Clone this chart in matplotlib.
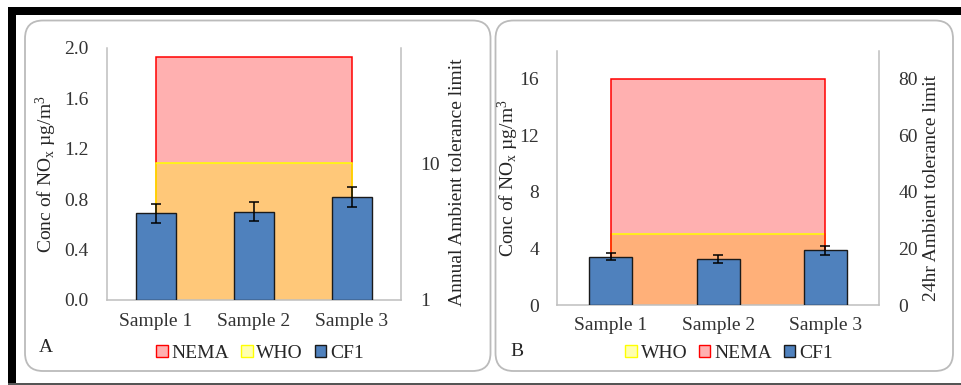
import matplotlib
matplotlib.use("Agg")
import matplotlib.pyplot as plt
from matplotlib.patches import FancyBboxPatch, Rectangle, Patch
from matplotlib.ticker import FixedLocator, FixedFormatter, NullLocator

plt.rcParams["font.family"] = ["Liberation Serif", "DejaVu Serif"]
plt.rcParams["mathtext.fontset"] = "custom"
plt.rcParams["mathtext.rm"] = "Liberation Serif"
plt.rcParams["mathtext.it"] = "Liberation Serif:italic"

# ---- data ----
samples = ["Sample 1", "Sample 2", "Sample 3"]

# Panel A: annual
cf1_annual = [0.69, 0.70, 0.82]
cf1_annual_err = [0.075, 0.074, 0.079]
nema_annual = [60, 60, 60]
who_annual = [10, 10, 10]

# Panel B: 24 hr
cf1_24hr = [3.42, 3.26, 3.89]
cf1_24hr_err = [0.27, 0.27, 0.32]
nema_24hr = [80, 80, 80]
who_24hr = [25, 25, 25]

BLUE = "#4F81BD"
NEMA_FILL = (1.0, 0.0, 0.0, 0.31)
WHO_FILL = (1.0, 1.0, 0.0, 0.31)
SPINE = "#BFBFBF"
TXT = "#262626"
FS = 14

W, H = 961, 385
fig = plt.figure(figsize=(W / 100, H / 100), dpi=100)

# pixel-space background layer for frames and panel boxes
bg = fig.add_axes([0, 0, 1, 1], zorder=-10)
bg.set_xlim(0, W)
bg.set_ylim(H, 0)
bg.axis("off")
bg.add_patch(Rectangle((8, 7), W - 8, 7.5, color="black", lw=0))
bg.add_patch(Rectangle((8, 7), 7.5, 377, color="black", lw=0))
bg.add_patch(Rectangle((8, 382.5), W - 8, 2.5, color="#555555", lw=0))
for x0, x1 in [(25, 490.5), (495.5, 953)]:
    bg.add_patch(FancyBboxPatch((x0, 20.5), x1 - x0, 350.5,
                                boxstyle="round,pad=0,rounding_size=18",
                                fc="white", ec="#BBBBBB", lw=1.3))


def px_axes(left, right, top, bottom):
    return fig.add_axes([left / W, (H - bottom) / H, (right - left) / W, (bottom - top) / H])


def draw_limit(tw, values, bottom, fill, edge):
    x = list(range(len(values)))
    tw.fill_between(x, bottom, values, facecolor=fill, edgecolor="none", lw=0)
    tw.plot([x[0]] + x + [x[-1]], [bottom] + list(values) + [bottom],
            color=edge, lw=1.1, solid_joinstyle="miter")


def style_axes(ax, tw):
    ax.set_zorder(tw.get_zorder() + 1)
    ax.patch.set_visible(False)
    for s in ["top", "right"]:
        ax.spines[s].set_visible(False)
    for s in ["top", "left", "bottom"]:
        tw.spines[s].set_visible(False)
    for sp in [ax.spines["left"], ax.spines["bottom"], tw.spines["right"]]:
        sp.set_color(SPINE)
        sp.set_linewidth(1.1)
    ax.tick_params(axis="both", length=0, labelsize=FS, colors="#333333")
    ax.tick_params(axis="y", pad=13)
    ax.tick_params(axis="x", pad=9)
    tw.tick_params(axis="y", length=0, labelsize=FS, colors="#333333", pad=14)
    tw.tick_params(axis="y", which="minor", length=0)
    ax.set_xlim(-0.5, len(samples) - 0.5)
    ax.set_xticks(range(len(samples)))
    ax.set_xticklabels(samples)


def draw_bars(ax, vals, errs):
    ax.bar(range(len(vals)), vals, width=0.4, color=BLUE, edgecolor="#1A1A1A", lw=1.0,
           yerr=errs, capsize=3.3, error_kw=dict(ecolor="black", elinewidth=1.1, capthick=1.1),
           zorder=3)


# ---- Panel A ----
axA = px_axes(107, 401, 48, 300)
twA = axA.twinx()
twA.set_yscale("log")
twA.set_ylim(1, 70)
draw_limit(twA, nema_annual, 1, NEMA_FILL, "red")
draw_limit(twA, who_annual, 1, WHO_FILL, "yellow")
draw_bars(axA, cf1_annual, cf1_annual_err)
style_axes(axA, twA)
axA.set_ylim(0, 2.0)
axA.set_yticks([0.0, 0.4, 0.8, 1.2, 1.6, 2.0])
axA.set_yticklabels([f"{v:.1f}" for v in [0.0, 0.4, 0.8, 1.2, 1.6, 2.0]])
twA.yaxis.set_major_locator(FixedLocator([1, 10]))
twA.yaxis.set_major_formatter(FixedFormatter(["1", "10"]))
twA.yaxis.set_minor_locator(NullLocator())
axA.set_ylabel(r"Conc of NO$_\mathrm{x}$ µg/m$^\mathrm{3}$", fontsize=FS, color=TXT,
               ha="center", va="center")
axA.yaxis.set_label_coords(-0.2075, 0.5)
twA.set_ylabel("Annual Ambient tolerance limit", fontsize=FS, color=TXT,
               rotation=90, ha="center", va="center")
twA.yaxis.set_label_coords(1.192, 0.468)

# ---- Panel B ----
axB = px_axes(557.3, 879, 50.7, 305)
twB = axB.twinx()
twB.set_ylim(0, 90)
draw_limit(twB, who_24hr, 0, WHO_FILL, "yellow")
draw_limit(twB, nema_24hr, 0, NEMA_FILL, "red")
draw_bars(axB, cf1_24hr, cf1_24hr_err)
style_axes(axB, twB)
axB.set_ylim(0, 18)
axB.set_yticks([0, 4, 8, 12, 16])
twB.set_yticks([0, 20, 40, 60, 80])
axB.set_ylabel(r"Conc of NO$_\mathrm{x}$ µg/m$^\mathrm{3}$", fontsize=FS, color=TXT,
               ha="center", va="center")
axB.yaxis.set_label_coords(-0.152, 0.5)
twB.set_ylabel("24hr Ambient tolerance limit", fontsize=FS, color=TXT,
               rotation=90, ha="center", va="center")
twB.yaxis.set_label_coords(1.164, 0.462)

# ---- legends and panel letters ----
h_nema = Patch(facecolor=NEMA_FILL, edgecolor="red", lw=1.0, label="NEMA")
h_who = Patch(facecolor=WHO_FILL, edgecolor="yellow", lw=1.0, label="WHO")
h_cf1 = Patch(facecolor=BLUE, edgecolor="#1A1A1A", lw=1.0, label="CF1")

leg_kw = dict(ncol=3, frameon=False, fontsize=FS, handlelength=0.6, handleheight=0.6,
              handletextpad=0.2, columnspacing=0.6, borderaxespad=0, borderpad=0,
              loc="center", bbox_transform=bg.transData)
legA = bg.legend(handles=[h_nema, h_who, h_cf1], bbox_to_anchor=(260, 353.5), **leg_kw)
for t in legA.get_texts():
    t.set_color(TXT)
bg.add_artist(legA)
legB = bg.legend(handles=[h_who, h_nema, h_cf1], bbox_to_anchor=(729, 353.5), **leg_kw)
for t in legB.get_texts():
    t.set_color(TXT)

bg.text(46, 348, "A", fontsize=FS, color=TXT, ha="center", va="center")
bg.text(517, 352, "B", fontsize=FS, color=TXT, ha="center", va="center")

fig.savefig("out.png", dpi=100)
